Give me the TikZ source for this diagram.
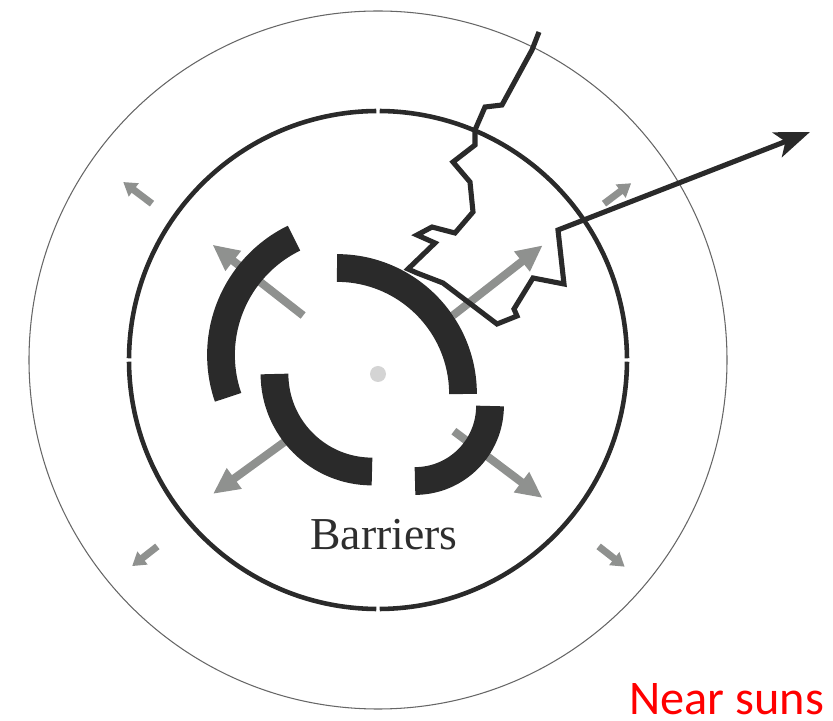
\documentclass[tikz,border=0pt]{standalone}
\usepackage{fontspec}
\setmainfont{Liberation Serif}
\newfontfamily\nearfont{Carlito}
\usetikzlibrary{arrows.meta}
\definecolor{barrierdark}{HTML}{2A2A2A}
\definecolor{arrowgray}{HTML}{8F918F}
\definecolor{dotgray}{HTML}{D4D4D4}

\begin{document}
\begin{tikzpicture}[x=0.02cm, y=0.02cm,
  barrier/.style={draw=barrierdark, line width=15.8pt},
  ring/.style={draw=barrierdark, line width=2.6pt},
  outerring/.style={draw=black!60, line width=0.6pt},
  longarrow/.style={draw=arrowgray, line width=4.6pt, -{Triangle[length=15pt, width=13.5pt]}},
  shortarrow/.style={draw=arrowgray, line width=4pt, -{Triangle[length=7.5pt, width=9pt]}},
  track/.style={draw=barrierdark, line width=2.9pt}]
\useasboundingbox (0,0) rectangle (833,721);
\coordinate (mid) at (378,347);
\coordinate (ringc) at (378,361);
\coordinate (ctrA) at (351,366);
\coordinate (ctrB) at (337,327);
\coordinate (ctrC) at (372,347);
\coordinate (ctrD) at (415,315);
% outer and inner rings
\draw[outerring] (ringc) circle[radius=349];
\draw[ring] (ringc) ++(0.4:249) arc[start angle=0.4, end angle=89.6, radius=249];
\draw[ring] (ringc) ++(90.4:249) arc[start angle=90.4, end angle=179.6, radius=249];
\draw[ring] (ringc) ++(180.4:249) arc[start angle=180.4, end angle=269.6, radius=249];
\draw[ring] (ringc) ++(270.4:249) arc[start angle=270.4, end angle=359.6, radius=249];
% gray arrows
\draw[longarrow] ([shift={(38:95)}]mid) -- ([shift={(38:209)}]mid);
\draw[longarrow] ([shift={(142:95)}]mid) -- ([shift={(142:210)}]mid);
\draw[longarrow] ([shift={(216:95)}]mid) -- ([shift={(216:204)}]mid);
\draw[longarrow] ([shift={(323:95)}]mid) -- ([shift={(323:206)}]mid);
\draw[shortarrow] ([shift={(37:283)}]mid) -- ([shift={(37:317)}]mid);
\draw[shortarrow] ([shift={(143:283)}]mid) -- ([shift={(143:319)}]mid);
\draw[shortarrow] ([shift={(218:280)}]mid) -- ([shift={(218:312)}]mid);
\draw[shortarrow] ([shift={(322:280)}]mid) -- ([shift={(322:313)}]mid);
\fill[dotgray] (mid) circle[radius=8];
% barriers
\draw[barrier] (ctrA) ++(116:130) arc[start angle=116, end angle=199, radius=130];
\draw[barrier] (ctrB) ++(0:126) arc[start angle=0, end angle=90, radius=126];
\draw[barrier] (ctrC) ++(180:97.5) arc[start angle=180, end angle=270, radius=97.5];
\draw[barrier] (ctrD) ++(270:75) arc[start angle=270, end angle=360, radius=75];
% track
\draw[track, -{Stealth[length=20pt, width=15pt, inset=5pt]}] (539,689) -- (532,671) -- (502,616) -- (485,614) -- (475,591) -- (475,576) -- (453,559) -- (470,539) -- (473,509) -- (455,488) -- (432,494) -- (417,486) -- (435,478) -- (408,452) -- (417,448) -- (443,438) -- (497,397) -- (517,405) -- (514,412) -- (533,443) -- (564,437) -- (558,491) -- (810,589);
\node[font=\fontsize{26}{30}\selectfont, text=black!82, inner sep=0] (barriers) at (384,186) {Barriers};
\node[font=\nearfont\fontsize{27.5}{33}\selectfont, text=red, anchor=south east, inner sep=1pt] (nearsuns) at (826,4) {Near suns};
\end{tikzpicture}
\end{document}
